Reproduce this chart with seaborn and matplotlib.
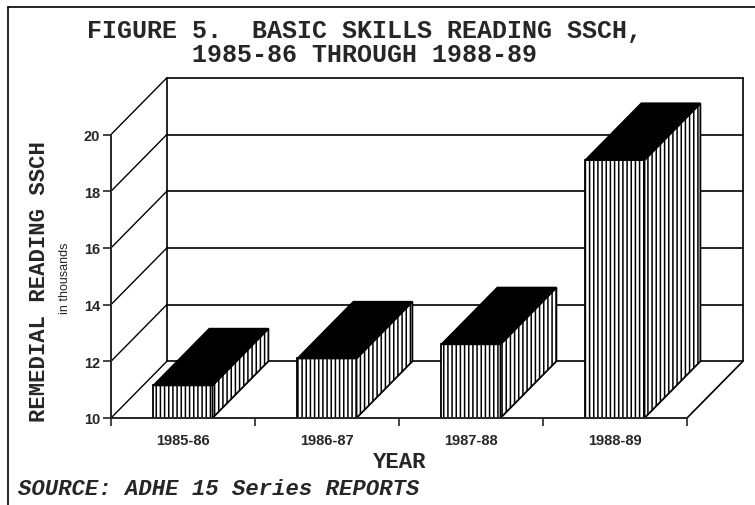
import matplotlib
matplotlib.use("Agg")
import matplotlib.pyplot as plt
from matplotlib.patches import Polygon
from matplotlib.lines import Line2D
import seaborn as sns

years = ["1985-86", "1986-87", "1987-88", "1988-89"]
sssch = [11.15, 12.1, 12.6, 19.1]
yticks = [10, 12, 14, 16, 18, 20]

sns.set_style("ticks")
plt.rcParams["font.family"] = ["Liberation Sans", "DejaVu Sans"]
plt.rcParams["hatch.linewidth"] = 1.1
plt.rcParams["hatch.color"] = "black"

mono = "Liberation Mono"
dx, dy = 0.388, 2.0  # depth of the fake 3d box

fig = plt.figure(figsize=(7.55, 5.06), dpi=100)
ax = fig.add_axes([111 / 755, 87 / 506, 4.4 * 144 / 755, 12.1 * 28.35 / 506])

sns.barplot(x=years, y=sssch, color="white", edgecolor="black", linewidth=1.3,
            width=0.41, hatch="||||", zorder=3, ax=ax)

# top and side faces of each bar
for p in ax.patches[:len(years)]:
    x0 = p.get_x()
    x1 = x0 + p.get_width()
    v = p.get_height()
    top = Polygon([(x0, v), (x1, v), (x1 + dx, v + dy), (x0 + dx, v + dy)],
                  closed=True, facecolor="black", edgecolor="black", lw=1.3, zorder=4)
    side = Polygon([(x1, 10), (x1, v), (x1 + dx, v + dy), (x1 + dx, 10 + dy)],
                   closed=True, facecolor="white", edgecolor="black", lw=1.3,
                   hatch="||||", zorder=3)
    ax.add_patch(side)
    ax.add_patch(top)

# back wall, floor and side diagonals
xl, xr = -0.5, 3.5
for v in yticks:
    ax.plot([xl + dx, xr + dx], [v + dy, v + dy], color="black", lw=1.2, zorder=1)
    ax.plot([xl, xl + dx], [v, v + dy], color="black", lw=1.0, zorder=1)
ax.plot([xl + dx, xl + dx], [10 + dy, 20 + dy], color="black", lw=1.2, zorder=1)
ax.plot([xr + dx, xr + dx], [10 + dy, 20 + dy], color="black", lw=1.2, zorder=1)
ax.plot([xr, xr + dx], [10, 10 + dy], color="black", lw=1.2, zorder=1)

ax.set_xlim(-0.5, 3.9)
ax.set_ylim(10, 22.1)
sns.despine(ax=ax)
ax.spines["left"].set_bounds(10, 20)
ax.spines["bottom"].set_bounds(-0.5, 3.5)
for s in ["left", "bottom"]:
    ax.spines[s].set_linewidth(1.4)
    ax.spines[s].set_zorder(6)

ax.set_yticks(yticks)
ax.set_yticklabels([str(t) for t in yticks], fontweight="bold", fontsize=10.5)
ax.tick_params(axis="y", length=6, width=1.2, pad=2)

ax.set_xticks([-0.5, 0.5, 1.5, 2.5, 3.5])
ax.set_xticklabels([])
ax.set_xticks(range(len(years)), minor=True)
ax.set_xticklabels(years, minor=True, fontweight="bold", fontsize=10.5)
ax.tick_params(axis="x", which="major", length=6, width=1.2)
ax.tick_params(axis="x", which="minor", length=0, pad=11)
ax.set_xlabel("")
ax.set_ylabel("")

fig.text(0.483, 1 - 31 / 506, "FIGURE 5.  BASIC SKILLS READING SSCH,", ha="center", va="center",
         family=mono, fontweight="bold", fontsize=18)
fig.text(0.483, 1 - 55 / 506, "1985-86 THROUGH 1988-89", ha="center", va="center",
         family=mono, fontweight="bold", fontsize=18)
fig.text(40 / 755, 1 - 282 / 506, "REMEDIAL READING SSCH", rotation=90, ha="center", va="center",
         family=mono, fontweight="bold", fontsize=16)
fig.text(65 / 755, 1 - 278 / 506, "in thousands", rotation=90, ha="center", va="center", fontsize=9)
fig.text(400 / 755, 1 - 463 / 506, "YEAR", ha="center", va="center",
         family=mono, fontweight="bold", fontsize=16)
fig.text(18 / 755, 1 - 490 / 506, "SOURCE: ADHE 15 Series REPORTS", ha="left", va="center",
         family=mono, fontweight="bold", style="italic", fontsize=16)

# page frame
fig.add_artist(Line2D([8 / 755, 8 / 755], [0, 1 - 8 / 506], transform=fig.transFigure, color="black", lw=1.2))
fig.add_artist(Line2D([8 / 755, 1], [1 - 8 / 506, 1 - 8 / 506], transform=fig.transFigure, color="black", lw=1.2))

fig.savefig("out.png", dpi=100)
